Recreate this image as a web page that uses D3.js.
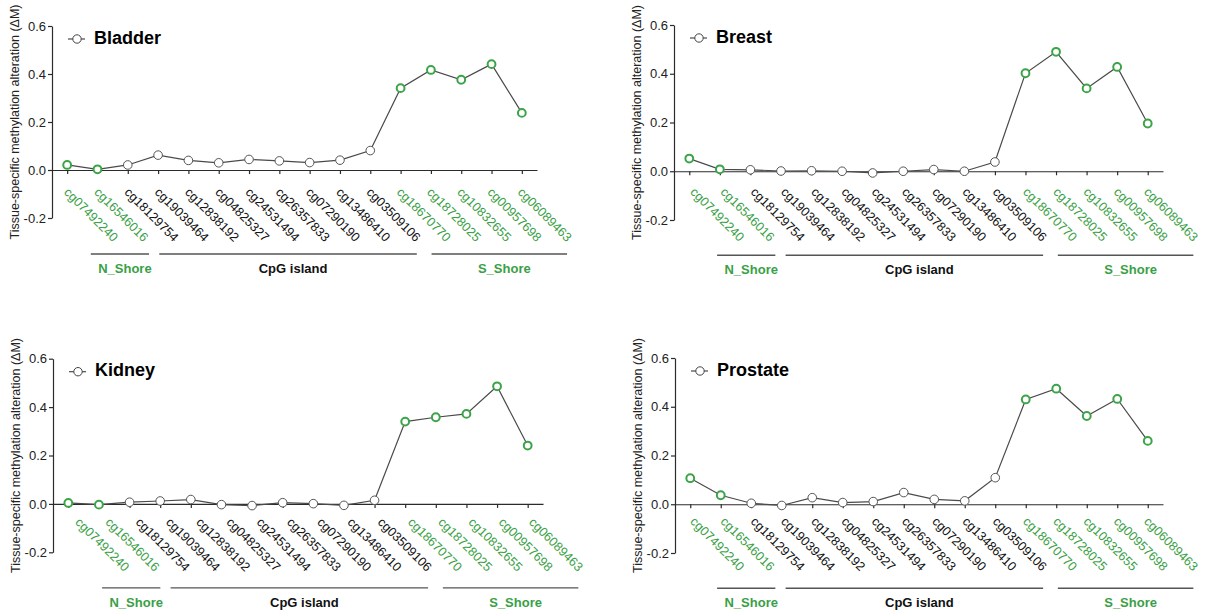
<!DOCTYPE html>
<html>
<head>
<meta charset="utf-8">
<script src="https://cdn.jsdelivr.net/npm/d3@7"></script>
<style>
  html, body { margin: 0; padding: 0; background: #fff; }
  svg { display: block; font-family: "Liberation Sans", Arial, sans-serif; }
</style>
</head>
<body>
<svg id="chart" width="1206" height="613"></svg>
<script>
// ---------- DATA ----------
const categories = ["cg07492240","cg16546016","cg18129754","cg19039464","cg12838192","cg04825327","cg24531494","cg26357833","cg07290190","cg13486410","cg03509106","cg18670770","cg18728025","cg10832655","cg00957698","cg06089463"];
const categoryRegion = ["N_Shore","N_Shore","CpG island","CpG island","CpG island","CpG island","CpG island","CpG island","CpG island","CpG island","CpG island","S_Shore","S_Shore","S_Shore","S_Shore","S_Shore"];
const regions = ["N_Shore","CpG island","S_Shore"];
const tissues = ["Bladder","Breast","Kidney","Prostate"];
const bladder  = [0.021, 0.003, 0.021, 0.062, 0.040, 0.030, 0.044, 0.038, 0.031, 0.041, 0.081, 0.341, 0.417, 0.376, 0.441, 0.238];
const breast   = [0.052, 0.008, 0.006, 0.001, 0.002, 0.000, -0.007, 0.000, 0.007, 0.000, 0.038, 0.402, 0.490, 0.340, 0.428, 0.196];
const kidney   = [0.004, -0.003, 0.007, 0.012, 0.018, -0.003, -0.007, 0.005, 0.001, -0.006, 0.015, 0.340, 0.358, 0.372, 0.486, 0.241];
const prostate = [0.107, 0.037, 0.004, -0.005, 0.027, 0.007, 0.011, 0.048, 0.020, 0.014, 0.109, 0.430, 0.474, 0.362, 0.432, 0.260];
const seriesValues = [bladder, breast, kidney, prostate];
const yTicks = [-0.2, 0.0, 0.2, 0.4, 0.6];
const yTickLabels = ["-0.2", "0.0", "0.2", "0.4", "0.6"];
const yTitle = "Tissue-specific methylation alteration (\u0394M)";

// ---------- LAYOUT / STYLE ----------
const GREEN = "#3ca448";
const GREEN_TEXT = "#3a9f46";
const LINE = "#4a4a4a";
const AXIS = "#2b2b2b";
const LABEL_STEP = 30.25;
const panels = [
  {x0: 52,  x1: 537,  yTop: 26,    yBot: 218,   lx: 63.3,  ldy: 23},
  {x0: 674, x1: 1163, yTop: 25,    yBot: 220,   lx: 689.6, ldy: 21.5},
  {x0: 53,  x1: 543,  yTop: 358.7, yBot: 552.3, lx: 74.6,  ldy: 19},
  {x0: 675, x1: 1163, yTop: 358,   yBot: 553,   lx: 689.6, ldy: 18}
];
const regionOffsets = {"N_Shore": [27.5, 55.5], "CpG island": [35.5, 51], "S_Shore": [35.5, 50]};
const isGreen = r => r !== "CpG island";

const svg = d3.select("#chart");

panels.forEach((p, pi) => {
  const g = svg.append("g");
  const vals = seriesValues[pi];
  const x = d3.scalePoint().domain(categories).range([p.x0, p.x1]).padding(0.5);
  const xl = d3.scalePoint().domain(categories).range([p.lx, p.lx + LABEL_STEP * (categories.length - 1)]);
  const y = d3.scaleLinear().domain([yTicks[0], yTicks[yTicks.length - 1]]).range([p.yBot, p.yTop]);
  const y0 = y(0);

  // Y axis
  const yAxis = d3.axisLeft(y).tickValues(yTicks)
    .tickFormat((d, i) => yTickLabels[i]).tickSize(4).tickSizeOuter(0).tickPadding(2);
  const ya = g.append("g").attr("transform", `translate(${p.x0},0)`).call(yAxis);
  ya.select(".domain").attr("stroke", AXIS).attr("stroke-width", 1.2);
  ya.selectAll(".tick line").attr("stroke", AXIS).attr("stroke-width", 1.2);
  ya.selectAll(".tick text").attr("font-size", "13px").attr("fill", "#222")
    .attr("font-family", "'Liberation Sans', Arial, sans-serif");

  // X axis at zero
  const xAxis = d3.axisBottom(x).tickSize(4).tickSizeOuter(0).tickFormat("");
  const xa = g.append("g").attr("transform", `translate(0,${y0})`).call(xAxis);
  xa.select(".domain").attr("stroke", AXIS).attr("stroke-width", 1.2);
  xa.selectAll(".tick line").attr("stroke", AXIS).attr("stroke-width", 1.2);

  // Rotated category labels
  g.append("g").selectAll("text").data(categories).join("text")
    .attr("transform", d => `translate(${xl(d)},${y0 + p.ldy}) rotate(45)`)
    .attr("text-anchor", "start")
    .attr("font-size", "12.7px")
    .attr("fill", (d, i) => isGreen(categoryRegion[i]) ? GREEN_TEXT : "#111")
    .text(d => d);

  // Y title
  g.append("text")
    .attr("transform", `translate(${p.x0 - 33},${(p.yTop + p.yBot) / 2}) rotate(-90)`)
    .attr("text-anchor", "middle")
    .attr("font-size", "12.5px")
    .attr("fill", "#222")
    .text(yTitle);

  // Line
  const line = d3.line().x((d, i) => x(categories[i])).y(d => y(d));
  g.append("path").datum(vals).attr("d", line)
    .attr("fill", "none").attr("stroke", LINE).attr("stroke-width", 1.2);

  // Markers
  g.append("g").selectAll("circle").data(vals).join("circle")
    .attr("cx", (d, i) => x(categories[i]))
    .attr("cy", d => y(d))
    .attr("r", (d, i) => isGreen(categoryRegion[i]) ? 3.9 : 4.3)
    .attr("fill", "#fff")
    .attr("stroke", (d, i) => isGreen(categoryRegion[i]) ? GREEN : "#555")
    .attr("stroke-width", (d, i) => isGreen(categoryRegion[i]) ? 2 : 1);

  // Legend / title
  const ly = p.yTop + 13;
  g.append("line").attr("x1", p.x0 + 16).attr("x2", p.x0 + 33).attr("y1", ly).attr("y2", ly)
    .attr("stroke", LINE).attr("stroke-width", 1.2);
  g.append("circle").attr("cx", p.x0 + 25).attr("cy", ly).attr("r", 4.2)
    .attr("fill", "#fff").attr("stroke", "#444").attr("stroke-width", 1);
  g.append("text").attr("x", p.x0 + 42).attr("y", p.yTop + 17.5)
    .attr("font-size", "18px").attr("font-weight", "bold").attr("fill", "#000")
    .text(tissues[pi]);

  // Region brackets
  const barY = y0 + 84;
  regions.forEach(r => {
    const idx = categoryRegion.map((c, i) => c === r ? i : -1).filter(i => i >= 0);
    const first = categories[idx[0]], last = categories[idx[idx.length - 1]];
    const xs = xl(first) + regionOffsets[r][0];
    const xe = xl(last) + regionOffsets[r][1];
    g.append("line").attr("x1", xs).attr("x2", xe).attr("y1", barY).attr("y2", barY)
      .attr("stroke", "#555").attr("stroke-width", 1.3);
    g.append("text").attr("x", (xs + xe) / 2 + 5).attr("y", barY + 19)
      .attr("text-anchor", "middle").attr("font-size", "13px").attr("font-weight", "bold")
      .attr("fill", isGreen(r) ? GREEN_TEXT : "#111")
      .text(r);
  });
});
</script>
</body>
</html>
